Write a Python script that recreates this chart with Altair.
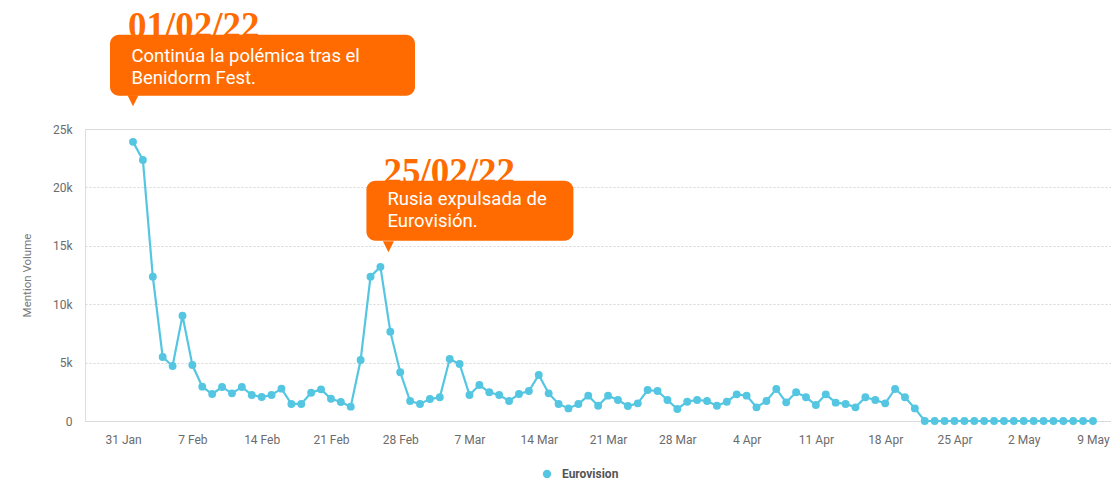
import altair as alt
import pandas as pd

# ---------------- data ----------------
start_date = "2022-02-01"
series_name = "Eurovision"
# daily mention volume (thousands), 1 Feb 2022 .. 9 May 2022
vol_feb = [23.9, 22.35, 12.36, 5.48, 4.71, 9.02, 4.79, 2.94, 2.31, 2.91, 2.37, 2.91,
           2.23, 2.05, 2.23, 2.77, 1.46, 1.46, 2.42, 2.71, 1.91, 1.63, 1.23, 5.22,
           12.36, 13.2, 7.65, 4.17]
vol_mar = [1.71, 1.46, 1.88, 2.03, 5.31, 4.88, 2.23, 3.08, 2.46, 2.23, 1.71, 2.31,
           2.57, 3.94, 2.37, 1.46, 1.08, 1.46, 2.17, 1.31, 2.17, 1.8, 1.28, 1.51,
           2.65, 2.57, 1.8, 1.03, 1.65, 1.8, 1.71]
vol_apr = [1.31, 1.65, 2.28, 2.17, 1.17, 1.71, 2.74, 1.6, 2.46, 2.03, 1.37, 2.28,
           1.57, 1.46, 1.17, 2.03, 1.8, 1.51, 2.74, 2.03, 1.08, 0, 0, 0, 0, 0, 0,
           0, 0, 0]
vol_may = [0, 0, 0, 0, 0, 0, 0, 0, 0]
values_k = vol_feb + vol_mar + vol_apr + vol_may

tick_dates = ["2022-01-31", "2022-02-07", "2022-02-14", "2022-02-21", "2022-02-28",
              "2022-03-07", "2022-03-14", "2022-03-21", "2022-03-28", "2022-04-04",
              "2022-04-11", "2022-04-18", "2022-04-25", "2022-05-02", "2022-05-09"]
y_ticks = [0, 5000, 10000, 15000, 20000, 25000]

callout_dates = ["2022-02-01", "2022-02-26"]
callout_titles = ["01/02/22", "25/02/22"]
callout_texts = ["Continúa la polémica tras el\nBenidorm Fest.",
                 "Rusia expulsada de\nEurovisión."]

# ---------------- styling / layout ----------------
CYAN = "#55C6E2"
ORANGE = "#FF6B00"
PLOT_W, PLOT_H = 1026, 292
PX_PER_DAY = 9.897
LEFT_PAD_DAYS = 48 / PX_PER_DAY

callout_layout = [
    dict(rect=(-23, 282, -107, -46), ptr=(0, -41), title=(-5, -104), body=(-1.5, -80)),
    dict(rect=(-14, 193, -86, -26), ptr=(8, -20), title=(3, -83), body=(7, -62)),
]

dates = pd.date_range(start_date, periods=len(values_k), freq="D")
df = pd.DataFrame({
    "date": dates.strftime("%Y-%m-%d"),
    "value": [v * 1000 for v in values_k],
    "series": series_name,
})

t0 = pd.Timestamp(start_date, tz="UTC") - pd.Timedelta(days=LEFT_PAD_DAYS)
t1 = t0 + pd.Timedelta(days=PLOT_W / PX_PER_DAY)
to_ms = lambda t: int(pd.Timestamp(t).value // 10**6)
x_domain = [to_ms(t0), to_ms(t1)]
tick_ms = [to_ms(pd.Timestamp(d, tz="UTC")) for d in tick_dates]

x_scale = alt.Scale(type="utc", domain=x_domain)
y_scale = alt.Scale(domain=[0, 25000], nice=False, zero=True)

x_axis = alt.Axis(values=tick_ms, labelExpr="utcFormat(datum.value, '%-d %b')", title=None,
                  grid=False, domain=False, ticks=False, tickSize=0, labelPadding=13,
                  labelFont="Roboto", labelFontSize=12, labelColor="#6b6b6b")
y_axis = alt.Axis(values=y_ticks,
                  labelExpr="datum.value == 0 ? '0' : format(datum.value / 1000, 'd') + 'k'",
                  title="Mention Volume",
                  grid=True, gridDash=[2, 2], gridColor="#d6d6d6", gridWidth=1,
                  domain=False, ticks=False, tickSize=0, labelPadding=13,
                  labelFont="Roboto", labelFontSize=12, labelColor="#6b6b6b",
                  titleFont="Roboto", titleFontSize=11.5, titleFontWeight="normal",
                  titleColor="#777777", titleAngle=270, titleX=-58, titleY=PLOT_H / 2,
                  titleAlign="center", titleBaseline="middle")

base = alt.Chart(df).encode(
    x=alt.X("date:T", scale=x_scale, axis=x_axis),
    y=alt.Y("value:Q", scale=y_scale, axis=y_axis),
)

line = base.mark_line(color=CYAN, strokeWidth=2.2)
points = base.mark_circle(size=62, opacity=1).encode(
    color=alt.Color("series:N",
                    scale=alt.Scale(domain=[series_name], range=[CYAN]),
                    legend=alt.Legend(title=None, orient="none", legendX=456, legendY=339,
                                      symbolType="circle", symbolSize=70,
                                      symbolStrokeWidth=0, symbolFillColor=CYAN,
                                      labelFont="Roboto", labelFontWeight="bold",
                                      labelFontSize=12, labelColor="#555555",
                                      labelOffset=9, padding=0))
)

layers = [line, points]
val_lookup = dict(zip(df["date"], df["value"]))
ptr_path = "M-1,-1L1,-1L0,1Z"
for d, ttl, txt, lay in zip(callout_dates, callout_titles, callout_texts, callout_layout):
    cdf = pd.DataFrame({"date": [d], "value": [val_lookup[d]], "title": [ttl], "text": [txt]})
    cb = alt.Chart(cdf).encode(
        x=alt.X("date:T", scale=x_scale, axis=x_axis),
        y=alt.Y("value:Q", scale=y_scale, axis=y_axis),
    )
    xo, x2o, yo, y2o = lay["rect"]
    title_t = cb.mark_text(align="left", baseline="alphabetic", dx=lay["title"][0],
                           dy=lay["title"][1], font="Liberation Serif", fontWeight="bold",
                           fontSize=37, color=ORANGE).encode(text="title:N")
    rect = cb.mark_rect(color=ORANGE, cornerRadius=9, opacity=1,
                        xOffset=xo, x2Offset=x2o, yOffset=yo, y2Offset=y2o).encode(
        x2=alt.X2("date:T"), y2=alt.Y2("value:Q"))
    ptr = cb.mark_point(shape=ptr_path, size=121, filled=True, color=ORANGE, opacity=1,
                        strokeWidth=0, xOffset=lay["ptr"][0], yOffset=lay["ptr"][1])
    body = cb.mark_text(align="left", baseline="alphabetic", dx=lay["body"][0],
                        dy=lay["body"][1], lineBreak="\n", lineHeight=22,
                        font="Roboto", fontSize=18.5, color="white").encode(text="text:N")
    layers += [title_t, rect, ptr, body]

chart = alt.layer(*layers).properties(
    width=PLOT_W, height=PLOT_H,
    padding={"left": 77, "top": 121, "right": 0, "bottom": 59},
    autosize=alt.AutoSizeParams(type="none"),
).configure_view(stroke=None).configure(background="white")

chart.save("out.html", embed_options={"renderer": "svg", "actions": False})
